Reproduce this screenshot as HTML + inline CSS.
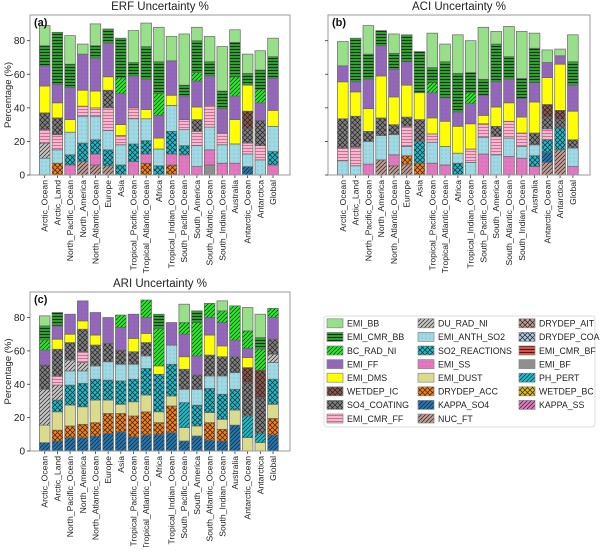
<!DOCTYPE html>
<html><head><meta charset="utf-8"><style>
body{margin:0;background:#fff}
svg text{font-family:"Liberation Sans","DejaVu Sans",sans-serif}
</style></head><body>
<svg id="chart" width="600" height="547" viewBox="0 0 600 547" xmlns="http://www.w3.org/2000/svg">
<defs id="defs"></defs>
</svg>
<script>
const categories = ["Arctic_Ocean","Arctic_Land","North_Pacific_Ocean","North_America","North_Atlantic_Ocean","Europe","Asia","Tropical_Pacific_Ocean","Tropical_Atlantic_Ocean","Africa","Tropical_Indian_Ocean","South_Pacific_Ocean","South_America","South_Atlantic_Ocean","South_Indian_Ocean","Australia","Antarctic_Ocean","Antarctica","Global"];
const yTicks = [0,20,40,60,80];
const legendNames = ["EMI_BB","EMI_CMR_BB","BC_RAD_NI","EMI_FF","EMI_DMS","WETDEP_IC","SO4_COATING","EMI_CMR_FF","DU_RAD_NI","EMI_ANTH_SO2","SO2_REACTIONS","EMI_SS","EMI_DUST","DRYDEP_ACC","KAPPA_SO4","NUC_FT","DRYDEP_AIT","DRYDEP_COA","EMI_CMR_BF","EMI_BF","PH_PERT","WETDEP_BC","KAPPA_SS"];
// each bar: list of [parameter, cumulative top %] from bottom up
const erfStacks = [
"EMI_ANTH_SO2:10 DU_RAD_NI:19 EMI_CMR_FF:27 SO4_COATING:37 EMI_DMS:53 EMI_FF:65 EMI_CMR_BB:77 EMI_BB:89",
"DRYDEP_ACC:7 EMI_ANTH_SO2:15 EMI_CMR_FF:24 SO4_COATING:34 EMI_DMS:43 EMI_FF:54 EMI_CMR_BB:85",
"EMI_SS:6 SO2_REACTIONS:12 EMI_ANTH_SO2:25.5 EMI_DMS:33 EMI_FF:52 EMI_CMR_BB:66 EMI_BB:83",
"NUC_FT:8 SO2_REACTIONS:19 EMI_ANTH_SO2:35 EMI_CMR_FF:41 EMI_DMS:50.5 EMI_FF:72 EMI_BB:78",
"NUC_FT:6 EMI_SS:12.5 SO2_REACTIONS:21 EMI_ANTH_SO2:35 EMI_CMR_FF:40 EMI_DMS:50 EMI_FF:69.5 EMI_CMR_BB:77 EMI_BB:90",
"NUC_FT:5.5 SO2_REACTIONS:15 EMI_ANTH_SO2:26.5 EMI_CMR_FF:40 SO4_COATING:50.5 EMI_DMS:58.5 EMI_FF:78.5 EMI_CMR_BB:87",
"SO2_REACTIONS:6 EMI_ANTH_SO2:18 EMI_CMR_FF:23.5 EMI_DMS:30 EMI_FF:48.5 BC_RAD_NI:58 EMI_CMR_BB:81.5",
"EMI_SS:8 SO2_REACTIONS:18.5 EMI_ANTH_SO2:33.5 EMI_CMR_FF:40 EMI_FF:59 EMI_CMR_BB:67 EMI_BB:86",
"DRYDEP_ACC:7 EMI_SS:12.5 SO2_REACTIONS:20.5 EMI_ANTH_SO2:33.5 EMI_DMS:39 EMI_FF:57 EMI_CMR_BB:76.5 EMI_BB:90.5",
"SO2_REACTIONS:5.5 EMI_ANTH_SO2:15.5 EMI_DMS:22 EMI_FF:35.5 BC_RAD_NI:48.5 EMI_CMR_BB:67.5 EMI_BB:88",
"DRYDEP_ACC:6 EMI_SS:12.5 SO2_REACTIONS:26 EMI_ANTH_SO2:41.5 EMI_DMS:47.5 EMI_FF:68 EMI_BB:82.5",
"EMI_SS:12 SO2_REACTIONS:17.5 EMI_ANTH_SO2:27 EMI_CMR_FF:33 EMI_FF:47 EMI_CMR_BB:53.5 EMI_BB:84",
"EMI_SS:5 EMI_ANTH_SO2:17.5 EMI_CMR_FF:26 SO4_COATING:33 EMI_DMS:40.5 EMI_FF:56 BC_RAD_NI:61 EMI_CMR_BB:80 EMI_BB:88",
"EMI_BF:6 EMI_SS:15 EMI_ANTH_SO2:28.5 EMI_CMR_FF:41.5 EMI_FF:59 EMI_CMR_BB:67.5 EMI_BB:82.5",
"EMI_SS:7 EMI_ANTH_SO2:18 EMI_CMR_FF:25 EMI_FF:39.5 EMI_CMR_BB:50 EMI_BB:76.5",
"EMI_SS:7 EMI_ANTH_SO2:18.5 EMI_DMS:33 EMI_FF:47 BC_RAD_NI:58.5 EMI_CMR_BB:79 EMI_BB:86.5",
"KAPPA_SO4:5 EMI_ANTH_SO2:12.5 EMI_CMR_FF:19 SO4_COATING:27.5 WETDEP_IC:38 EMI_DMS:53.5 EMI_CMR_BB:60.5 EMI_BB:72",
"EMI_ANTH_SO2:9 EMI_CMR_FF:17.5 SO4_COATING:32.5 EMI_FF:43 BC_RAD_NI:51 EMI_CMR_BB:62.5 EMI_BB:74",
"EMI_SS:6 SO2_REACTIONS:14 EMI_ANTH_SO2:29 EMI_DMS:38.5 EMI_FF:57.5 EMI_CMR_BB:70.5 EMI_BB:81.5"];
const aciStacks = [
"EMI_ANTH_SO2:8.5 EMI_CMR_FF:16 SO4_COATING:33.5 EMI_DMS:55.5 EMI_FF:65 EMI_BB:79.5",
"EMI_ANTH_SO2:5.5 EMI_CMR_FF:16.5 SO4_COATING:35 EMI_DMS:49.5 EMI_FF:55.5 EMI_CMR_BB:81.5",
"EMI_SS:6.5 EMI_ANTH_SO2:20 SO4_COATING:26 EMI_DMS:39.5 EMI_FF:57 EMI_CMR_BB:72 EMI_BB:89",
"NUC_FT:9 EMI_ANTH_SO2:23.5 SO4_COATING:34 EMI_DMS:59 EMI_FF:77 EMI_CMR_BB:86",
"NUC_FT:5.5 EMI_SS:12 EMI_ANTH_SO2:24 SO4_COATING:30 EMI_DMS:46.5 EMI_FF:63 EMI_CMR_BB:72.5 EMI_BB:84",
"NUC_FT:6.5 DRYDEP_ACC:11.5 EMI_ANTH_SO2:17 EMI_CMR_FF:29 SO4_COATING:34.5 EMI_DMS:53.5 EMI_FF:67.5 EMI_CMR_BB:83.5",
"DRYDEP_ACC:7 SO2_REACTIONS:20 SO4_COATING:33 EMI_DMS:49 EMI_CMR_BB:73.5",
"EMI_SS:7 EMI_ANTH_SO2:19.5 EMI_CMR_FF:24.5 EMI_DMS:34 EMI_FF:49 BC_RAD_NI:55 EMI_CMR_BB:64 EMI_BB:84.5",
"EMI_SS:6 EMI_ANTH_SO2:17 EMI_DMS:32 EMI_FF:46 EMI_CMR_BB:67.5 EMI_BB:78",
"SO2_REACTIONS:7 EMI_ANTH_SO2:13 EMI_DMS:29 EMI_FF:37.5 EMI_CMR_BB:60.5 EMI_BB:83.5",
"EMI_ANTH_SO2:7.5 EMI_CMR_FF:15.5 EMI_DMS:30.5 EMI_FF:42.5 BC_RAD_NI:49 EMI_CMR_BB:61 EMI_BB:80",
"EMI_SS:12.5 EMI_ANTH_SO2:22.5 EMI_CMR_FF:30.5 EMI_DMS:35.5 EMI_FF:47.5 EMI_CMR_BB:57 EMI_BB:88",
"EMI_ANTH_SO2:12 EMI_CMR_FF:23 SO4_COATING:29 EMI_DMS:40.5 EMI_FF:55.5 EMI_CMR_BB:78 EMI_BB:85.5",
"EMI_SS:11 EMI_ANTH_SO2:22 EMI_CMR_FF:32 EMI_DMS:43 EMI_FF:57 EMI_CMR_BB:70.5 EMI_BB:88.5",
"EMI_SS:10 EMI_ANTH_SO2:17 EMI_CMR_FF:25 EMI_DMS:34.5 EMI_FF:45.5 EMI_CMR_BB:57.5 EMI_BB:85.5",
"EMI_SS:5 SO2_REACTIONS:11.5 EMI_ANTH_SO2:18 SO4_COATING:25 EMI_DMS:43.5 EMI_FF:55 EMI_CMR_BB:75.5 EMI_BB:84.5",
"NUC_FT:7.5 KAPPA_SO4:13.5 SO2_REACTIONS:21 EMI_CMR_FF:27.5 SO4_COATING:34.5 WETDEP_IC:42 EMI_DMS:58 EMI_FF:67 EMI_BB:74.5",
"NUC_FT:15 SO2_REACTIONS:28 SO4_COATING:33 WETDEP_IC:38.5 EMI_DMS:66 EMI_FF:71 EMI_BB:75",
"EMI_SS:5 EMI_ANTH_SO2:16 SO4_COATING:21 EMI_DMS:38 EMI_FF:53.5 EMI_CMR_BB:67.5 EMI_BB:83.5"];
const ariStacks = [
"KAPPA_SO4:5 EMI_DUST:15.5 DU_RAD_NI:37 SO4_COATING:51.5 EMI_FF:60.5 BC_RAD_NI:66.5 EMI_CMR_BB:75 EMI_BB:81",
"KAPPA_SO4:6 DRYDEP_ACC:12.5 EMI_DUST:23.5 SO2_REACTIONS:30.5 DU_RAD_NI:39.5 EMI_CMR_FF:45 SO4_COATING:61 EMI_DMS:67 EMI_FF:75 EMI_CMR_BB:83",
"KAPPA_SO4:8 DRYDEP_ACC:15 EMI_DUST:27.5 SO2_REACTIONS:39.5 EMI_ANTH_SO2:48 DU_RAD_NI:54.5 SO4_COATING:65 EMI_DMS:70 EMI_FF:82",
"KAPPA_SO4:8 DRYDEP_ACC:16 EMI_DUST:26.5 SO2_REACTIONS:40.5 EMI_ANTH_SO2:48 DU_RAD_NI:53 EMI_CMR_FF:59.5 SO4_COATING:73 EMI_DMS:78 EMI_FF:90",
"KAPPA_SO4:9 DRYDEP_ACC:17 EMI_DUST:30.5 SO2_REACTIONS:43 EMI_ANTH_SO2:51 SO4_COATING:63.5 EMI_DMS:69.5 EMI_FF:83",
"KAPPA_SO4:10.5 DRYDEP_ACC:22.5 EMI_DUST:30.5 SO2_REACTIONS:42.5 EMI_ANTH_SO2:53.5 SO4_COATING:64.5 EMI_FF:80",
"KAPPA_SO4:11.5 DRYDEP_ACC:22.5 EMI_DUST:28 SO2_REACTIONS:42 EMI_ANTH_SO2:52 SO4_COATING:60.5 EMI_FF:74 BC_RAD_NI:81.5",
"KAPPA_SO4:8.5 DRYDEP_ACC:21 EMI_DUST:29.5 SO2_REACTIONS:43 EMI_ANTH_SO2:52 SO4_COATING:59.5 EMI_DMS:67.5 EMI_FF:82",
"KAPPA_SO4:9.5 DRYDEP_ACC:23.5 EMI_DUST:33.5 SO2_REACTIONS:49.5 EMI_ANTH_SO2:57 SO4_COATING:65 EMI_DMS:70.5 EMI_FF:80 BC_RAD_NI:90.5",
"KAPPA_SO4:10 DRYDEP_ACC:17 EMI_DUST:23.5 SO2_REACTIONS:46 EMI_DMS:51 BC_RAD_NI:73.5 EMI_CMR_BB:82",
"KAPPA_SO4:11 DRYDEP_ACC:27 EMI_DUST:33 SO2_REACTIONS:52 EMI_ANTH_SO2:63.5 EMI_FF:77",
"KAPPA_SO4:6 EMI_DUST:14 PH_PERT:29 EMI_ANTH_SO2:37 SO4_COATING:49 EMI_DMS:56.5 EMI_FF:70 BC_RAD_NI:77 EMI_BB:88",
"KAPPA_SO4:9 EMI_DUST:15 SO2_REACTIONS:27.5 EMI_ANTH_SO2:37 SO4_COATING:45.5 EMI_FF:57 BC_RAD_NI:77 EMI_CMR_BB:84",
"KAPPA_SO4:6.5 DRYDEP_ACC:17 EMI_DUST:23 SO2_REACTIONS:37.5 EMI_ANTH_SO2:45 SO4_COATING:57.5 EMI_DMS:69.5 EMI_FF:80 BC_RAD_NI:88.5",
"KAPPA_SO4:6 DRYDEP_ACC:13 EMI_DUST:19 SO2_REACTIONS:34 EMI_ANTH_SO2:45 SO4_COATING:56.5 EMI_DMS:63 EMI_FF:77 BC_RAD_NI:84 EMI_BB:90",
"KAPPA_SO4:15.5 EMI_DUST:24.5 SO2_REACTIONS:37 EMI_ANTH_SO2:47 SO4_COATING:56.5 EMI_FF:66.5 BC_RAD_NI:87",
"EMI_DUST:8 PH_PERT:21 SO4_COATING:41 WETDEP_IC:50 EMI_DMS:56 EMI_FF:61.5 BC_RAD_NI:72 EMI_BB:86",
"EMI_DUST:5 PH_PERT:10.5 SO4_COATING:32 WETDEP_IC:48.5 BC_RAD_NI:61 EMI_CMR_BB:68 EMI_BB:82",
"KAPPA_SO4:9.5 DRYDEP_ACC:19.5 EMI_DUST:28 SO2_REACTIONS:43 EMI_ANTH_SO2:53 DU_RAD_NI:58 SO4_COATING:67 EMI_FF:80 BC_RAD_NI:85.5"];

const NS="http://www.w3.org/2000/svg";
const svg=document.getElementById('chart'), defs=document.getElementById('defs');
function mk(tag,attrs,parent){const e=document.createElementNS(NS,tag);for(const k in attrs)e.setAttribute(k,attrs[k]);(parent||svg).appendChild(e);return e;}
const styles={EMI_BB:["#98df8a",""],EMI_CMR_BB:["#2ca02c","-"],BC_RAD_NI:["#22ee22","/"],EMI_FF:["#9467bd","."],EMI_DMS:["#ffff00",""],WETDEP_IC:["#8c564b","x"],SO4_COATING:["#7f7f7f","x"],EMI_CMR_FF:["#f7b6d2","-p"],DU_RAD_NI:["#c7c7c7","/"],EMI_ANTH_SO2:["#9edae5","."],SO2_REACTIONS:["#17becf","x"],EMI_SS:["#e377c2","."],EMI_DUST:["#dbdb8d",""],DRYDEP_ACC:["#ff7f0e","x"],KAPPA_SO4:["#1f77b4","/"],NUC_FT:["#c49c94","/"],DRYDEP_AIT:["#c49c94","x"],DRYDEP_COA:["#aec7e8","x"],EMI_CMR_BF:["#e0504a","-"],EMI_BF:["#8f8f8f",""],PH_PERT:["#17becf","/"],WETDEP_BC:["#e5c100","x"],KAPPA_SS:["#e377c2","/"]};
const fillOf={};
legendNames.forEach((n,i)=>{
  const [c,h]=styles[n];
  if(!h){fillOf[n]=c;return;}
  const id='p'+i;
  const p=mk('pattern',{id:id,patternUnits:'userSpaceOnUse',width:h==='x'?5:4,height:h==='x'?5:(h==='.'?4:(h[0]==='-'?3:4))},defs);
  mk('rect',{x:0,y:0,width:10,height:10,fill:c},p);
  if(h==='/'){mk('path',{d:'M-1,1 L1,-1 M0,4 L4,0 M3,5 L5,3',stroke:'#222',['stroke-width']:0.7},p);}
  else if(h==='x'){mk('path',{d:'M0,0 L5,5 M5,0 L0,5',stroke:'#222',['stroke-width']:0.7},p);}
  else if(h==='-'){mk('path',{d:'M0,1.5 L4,1.5',stroke:'#111',['stroke-width']:0.8},p);}
  else if(h==='-p'){mk('path',{d:'M0,1.5 L4,1.5',stroke:'#c06080',['stroke-width']:0.8},p);}
  else if(h==='.'){mk('circle',{cx:2,cy:2,r:0.35,fill:'#555'},p);}
  fillOf[n]='url(#'+id+')';
});

function panel(opt){
  const {x0,x1,yTop,yBot,stacks,title,letter,showY,name}=opt;
  const g=mk('g',{});
  
  
  const ymax=95.3;
  const yS=v=>yBot-(v/ymax)*(yBot-yTop);
  const step=(x1-x0)/20.5;
  const xS=i=>x0+step*(1.16+i);
  const bw=step*0.84;
  const t=mk('text',{x:(x0+x1)/2,y:yTop-5,'text-anchor':'middle','font-size':11.5,fill:'#222'},g);
  t.textContent=title;
  
  
  stacks.forEach((s,i)=>{
    let prev=0;
    s.split(' ').forEach(tok=>{
      const [k,v]=tok.split(':');const top=+v;
      const r=mk('rect',{x:xS(i)-bw/2,y:yS(top),width:bw,height:yS(prev)-yS(top),fill:fillOf[k],stroke:'#666','stroke-width':0.7},g);
      
      
      prev=top;
    });
    mk('line',{x1:xS(i),x2:xS(i),y1:yBot,y2:yBot+3,stroke:'#333','stroke-width':0.8},g);
    const lb=mk('text',{transform:`translate(${xS(i)+3},${yBot+5}) rotate(-90)`,'text-anchor':'end','font-size':8.6,fill:'#222'},g);
    lb.textContent=categories[i];
    
    
  });
  mk('rect',{x:x0,y:yTop,width:x1-x0,height:yBot-yTop,fill:'none',stroke:'#999','stroke-width':1},g);
  yTicks.forEach(v=>{
    mk('line',{x1:x0-3,x2:x0,y1:yS(v),y2:yS(v),stroke:'#333','stroke-width':0.8},g);
    if(showY){const tl=mk('text',{x:x0-5,y:yS(v)+3.5,'text-anchor':'end','font-size':10,fill:'#222'},g);tl.textContent=v;
      
      }
  });
  if(showY){const yl=mk('text',{transform:`translate(11,${(yTop+yBot)/2}) rotate(-90)`,'text-anchor':'middle','font-size':9.5,fill:'#222'},g);yl.textContent='Percentage (%)';
    
    }
  const L=mk('text',{x:x0+4,y:yTop+11,'font-size':11,'font-weight':'bold',fill:'#111'},g);L.textContent=letter;
  
  
}
panel({x0:30,x1:290,yTop:15,yBot:175,stacks:erfStacks,title:'ERF Uncertainty %',letter:'(a)',showY:true,name:'erf-panel'});
panel({x0:328,x1:590,yTop:15,yBot:175,stacks:aciStacks,title:'ACI Uncertainty %',letter:'(b)',showY:false,name:'aci-panel'});
panel({x0:30,x1:290,yTop:292,yBot:451,stacks:ariStacks,title:'ARI Uncertainty %',letter:'(c)',showY:true,name:'ari-panel'});

const lg=mk('g',{});


mk('rect',{x:324,y:316,width:271,height:111,rx:3,fill:'#fff',stroke:'#ddd','stroke-width':1},lg);
const colX=[327,418,519];
legendNames.forEach((n,i)=>{
  const c=Math.floor(i/8),r=i%8;
  const y=323.3+r*13.6;
  const e=mk('g',{},lg);
  
  
  mk('rect',{x:colX[c],y:y-4.5,width:16,height:9,fill:fillOf[n],stroke:'#888','stroke-width':0.7},e);
  const tx=mk('text',{x:colX[c]+20,y:y+3.3,'font-size':8.8,fill:'#222'},e);tx.textContent=n;
});
</script>
</body></html>
